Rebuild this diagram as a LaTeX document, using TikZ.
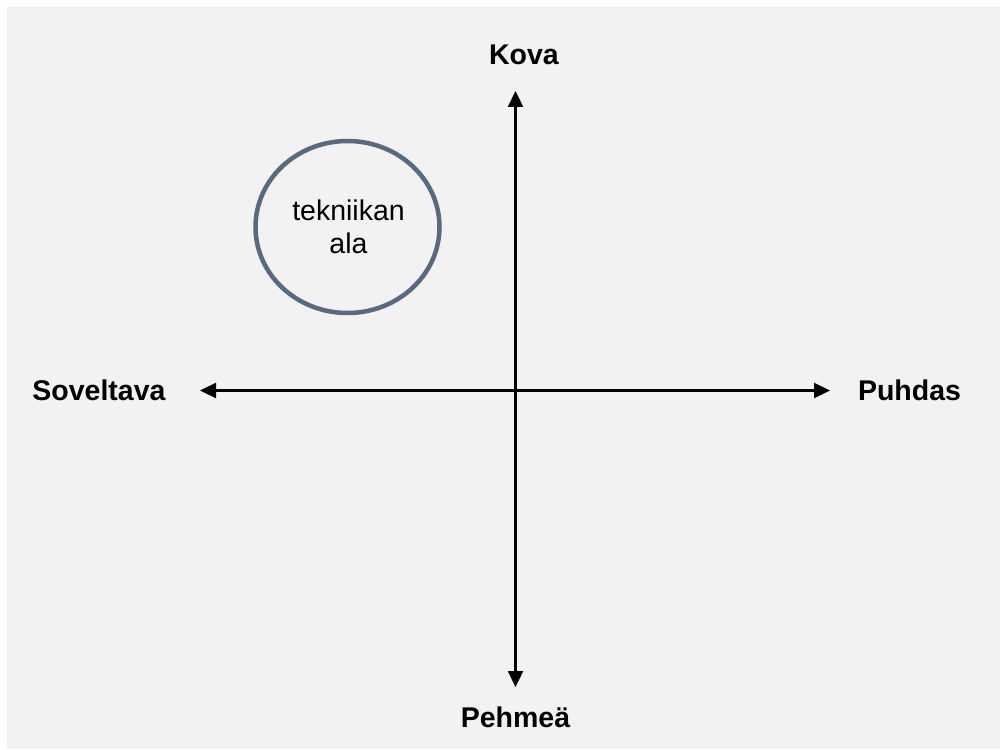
\documentclass[tikz,border=0pt]{standalone}
\usepackage{fontspec}
\setmainfont{Liberation Sans}
\usetikzlibrary{arrows.meta,shapes.geometric}
\definecolor{bg}{HTML}{F2F2F2}
\definecolor{ring}{RGB}{89,106,128}
\tikzset{
  axislabel/.style={font=\fontsize{28.5}{34}\selectfont\bfseries, inner sep=0pt, anchor=base},
  ringtext/.style={font=\fontsize{28.5}{33}\selectfont, inner sep=0pt, anchor=base},
  axisline/.style={line width=2.3pt, {Triangle[length=16pt,width=15pt]}-{Triangle[length=16pt,width=15pt]}},
  ringbox/.style={draw=ring, line width=4.5pt, ellipse, minimum width=184pt, minimum height=172pt, inner sep=0pt},
}
\begin{document}
\begin{tikzpicture}[x=1pt,y=-1pt]
\useasboundingbox (0,0) rectangle (1000,749);
\fill[bg] (7,7) rectangle (1000,749);
% axis end coordinates
\coordinate (top) at (515.5,91);
\coordinate (bottom) at (515.5,687);
\coordinate (left) at (200,390.5);
\coordinate (right) at (830,390.5);
\draw[axisline] (top) -- (bottom);
\draw[axisline] (left) -- (right);
% labels
\node[axislabel] (kova) at (524,65) {Kova};
\node[axislabel] (pehmea) at (515.5,727) {Pehmeä};
\node[axislabel] (soveltava) at (99,400) {Soveltava};
\node[axislabel] (puhdas) at (909.5,400) {Puhdas};
% circle
\node[ringbox] (ala) at (347.5,227) {};
\node[ringtext] (t1) at (348.5,220) {tekniikan};
\node[ringtext] (t2) at (348.5,253) {ala};
\end{tikzpicture}
\end{document}
